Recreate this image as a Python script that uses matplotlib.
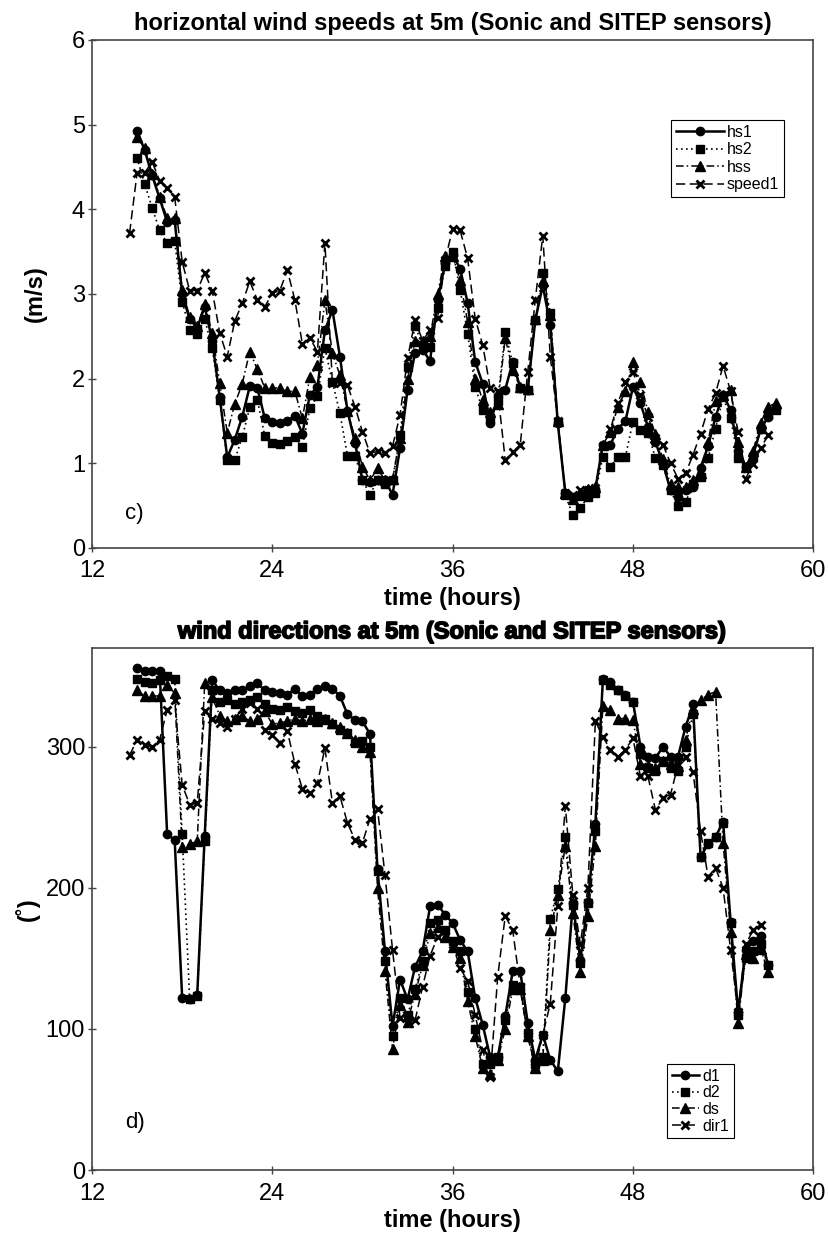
import matplotlib
matplotlib.use("Agg")
import matplotlib.pyplot as plt
import matplotlib.patheffects as pe
import numpy as np

plt.rcParams["font.family"] = ["Liberation Sans", "DejaVu Sans"]

# sampling: every half hour
STEP = 0.5

# top panel: horizontal wind speeds (m/s), hs series start at 15.0 h, speed1 at 14.5 h
hs_start = 15.0
speed1_start = 14.5
hs1 = [4.93, 4.70, 4.40, 4.13, 3.85, 3.87, 3.00, 2.70, 2.60, 2.85,
       2.45, 1.78, 1.07, 1.28, 1.55, 1.91, 1.89, 1.53, 1.49, 1.48,
       1.50, 1.56, 1.35, 1.81, 1.90, 2.57, 2.81, 2.26, 1.62, 1.24,
       0.80, 0.78, 0.80, 0.80, 0.63, 1.18, 1.87, 2.30, 2.34, 2.21,
       2.93, 3.36, 3.46, 3.30, 2.89, 2.20, 1.94, 1.47, 1.79, 1.87,
       2.20, 1.89, 1.87, 2.69, 3.10, 2.63, 1.47, 0.65, 0.60, 0.62,
       0.68, 0.70, 1.22, 1.22, 1.41, 1.50, 1.90, 1.71, 1.43, 1.25,
       1.00, 0.68, 0.60, 0.68, 0.72, 0.95, 1.20, 1.55, 1.81, 1.63,
       1.15, 0.96, 1.10, 1.40, 1.55, 1.65]
hs2 = [4.61, 4.30, 4.02, 3.75, 3.60, 3.62, 2.91, 2.58, 2.53, 2.70,
       2.36, 1.75, 1.04, 1.04, 1.31, 1.66, 1.75, 1.32, 1.24, 1.23,
       1.26, 1.31, 1.19, 1.65, 1.79, 2.36, 1.96, 1.59, 1.09, 1.09,
       0.80, 0.63, 0.80, 0.76, 0.80, 1.33, 2.14, 2.62, 2.40, 2.37,
       2.83, 3.33, 3.50, 3.05, 2.53, 1.90, 1.63, 1.53, 1.73, 2.55,
       2.18, 1.89, 1.87, 2.69, 3.25, 2.77, 1.49, 0.62, 0.39, 0.47,
       0.60, 0.65, 1.08, 0.96, 1.08, 1.08, 1.49, 1.39, 1.36, 1.06,
       0.98, 0.68, 0.49, 0.54, 0.76, 0.84, 1.06, 1.41, 1.78, 1.53,
       1.06, 0.96, 1.08, 1.41, 1.57, 1.63]
hss = [4.85, 4.72, 4.42, 4.15, 3.90, 3.90, 3.05, 2.73, 2.62, 2.88,
       2.54, 1.95, 1.36, 1.70, 1.94, 2.32, 2.11, 1.89, 1.89, 1.89,
       1.85, 1.85, 1.53, 2.02, 2.16, 2.93, 2.30, 2.04, 1.62, 1.30,
       0.96, 0.80, 0.94, 0.80, 0.82, 1.30, 2.00, 2.45, 2.45, 2.50,
       3.00, 3.45, 3.45, 3.16, 2.67, 2.00, 1.75, 1.60, 1.70, 2.48,
       2.10, 1.90, 1.88, 2.70, 3.15, 2.75, 1.50, 0.65, 0.58, 0.62,
       0.70, 0.72, 1.22, 1.37, 1.67, 1.85, 2.20, 1.96, 1.61, 1.34,
       1.05, 0.75, 0.72, 0.72, 0.80, 0.88, 1.25, 1.73, 1.81, 1.87,
       1.25, 0.96, 1.15, 1.48, 1.67, 1.71]
speed1 = [3.72, 4.43, 4.43, 4.56, 4.34, 4.25, 4.15, 3.38, 3.04, 3.04,
          3.25, 3.04, 2.54, 2.26, 2.68, 2.89, 3.15, 2.93, 2.85, 3.01,
          3.04, 3.28, 2.93, 2.41, 2.48, 2.32, 3.60, 1.95, 1.95, 1.92,
          1.67, 1.37, 1.12, 1.14, 1.12, 1.20, 1.57, 2.24, 2.69, 2.45,
          2.57, 2.72, 3.40, 3.77, 3.75, 3.42, 2.71, 2.40, 1.89, 1.85,
          1.04, 1.13, 1.22, 2.08, 2.93, 3.69, 2.26, 1.50, 0.65, 0.62,
          0.68, 0.68, 0.71, 1.20, 1.40, 1.71, 1.96, 2.08, 1.81, 1.55,
          1.30, 1.22, 1.00, 0.82, 0.88, 1.10, 1.35, 1.64, 1.83, 2.15,
          1.85, 1.37, 0.82, 0.99, 1.18, 1.33]

# bottom panel: wind directions (deg), d series start at 15.0 h, dir1 at 14.5 h
d_start = 15.0
dir1_start = 14.5
d1 = [356, 354, 354, 354, 238, 234, 122, 121, 124, 237,
      347, 340, 338, 340, 340, 343, 345, 340, 339, 338,
      337, 341, 336, 337, 341, 343, 341, 336, 323, 319,
      318, 309, 213, 155, 102, 135, 121, 144, 155, 187,
      188, 181, 175, 163, 155, 122, 103, 80, 80, 109,
      141, 141, 104, 78, 96, 78, 70, 122, 189, 149,
      190, 245, 348, 346, 340, 337, 332, 300, 293, 292,
      300, 293, 293, 314, 330, 222, 231, 236, 247, 176,
      112, 156, 162, 166, 145]
d2 = [348, 346, 345, 347, 350, 348, 238, 121, 123, 233,
      340, 332, 333, 330, 332, 333, 335, 330, 327, 326,
      328, 325, 324, 326, 322, 320, 316, 312, 310, 303,
      304, 300, 212, 148, 95, 122, 110, 128, 148, 175,
      177, 170, 162, 155, 126, 100, 75, 75, 80, 106,
      131, 130, 97, 75, 80, 178, 199, 236, 188, 147,
      189, 240, 347, 344, 340, 336, 332, 295, 285, 283,
      290, 285, 283, 300, 323, 222, 232, 236, 246, 175,
      110, 150, 155, 160, 145]
ds = [340, 336, 336, 336, 344, 338, 229, 231, 233, 345,
      335, 322, 318, 320, 322, 318, 320, 325, 316, 317,
      318, 320, 318, 320, 318, 320, 317, 314, 310, 305,
      300, 296, 200, 141, 86, 117, 105, 125, 145, 168,
      172, 165, 158, 150, 120, 95, 72, 68, 78, 100,
      128, 128, 95, 72, 78, 170, 195, 230, 182, 140,
      180, 230, 329, 326, 320, 320, 319, 288, 287, 285,
      290, 288, 286, 305, 327, 333, 337, 339, 232, 169,
      104, 153, 150, 157, 140]
dir1 = [294, 305, 301, 300, 305, 326, 333, 273, 259, 260,
        325, 320, 317, 314, 320, 327, 331, 327, 312, 308,
        303, 311, 288, 270, 267, 274, 299, 260, 265, 246,
        234, 232, 249, 256, 209, 156, 108, 104, 106, 130,
        152, 165, 170, 160, 143, 134, 110, 85, 66, 137,
        180, 170, 130, 95, 73, 96, 118, 187, 258, 195,
        160, 200, 318, 307, 298, 293, 298, 306, 279, 279,
        255, 264, 266, 287, 293, 282, 240, 208, 214, 200,
        156, 112, 160, 170, 174]

x_ticks = [12, 24, 36, 48, 60]


def times(start, values):
    return start + STEP * np.arange(len(values))


# line styles for the four sensors (solid/circle, dotted/square, dash-dot/triangle, dash/x)
STYLES = [
    dict(linestyle="-", linewidth=1.8, marker="o", markersize=6),
    dict(linestyle=(0, (1, 2)), linewidth=1.2, marker="s", markersize=6),
    dict(linestyle=(0, (5, 2, 1, 2)), linewidth=1.1, marker="^", markersize=6.5),
    dict(linestyle=(0, (6, 3)), linewidth=1.1, marker="x", markersize=6, markeredgewidth=2),
]


def style_axis(axis):
    for spine in axis.spines.values():
        spine.set_color("#444444")
        spine.set_linewidth(1.2)
    axis.tick_params(direction="inout", length=6, width=1, color="#444444",
                     labelsize=17, pad=2, top=False, right=False)
    axis.tick_params(axis="x", pad=6)  # keeps "12" clear of the "0" on the y axis
    axis.set_xlim(12, 60)
    axis.set_xticks(x_ticks)
    axis.set_xlabel("time (hours)", fontsize=17, fontweight="bold", labelpad=3)


fig = plt.figure(figsize=(8.29, 12.38), dpi=100)
ax1 = fig.add_axes([0.111, 0.5574, 0.870, 0.4103])
ax2 = fig.add_axes([0.111, 0.0549, 0.870, 0.4217])

# top panel
top_series = [(hs_start, hs1, "hs1"), (hs_start, hs2, "hs2"),
              (hs_start, hss, "hss"), (speed1_start, speed1, "speed1")]
for (start, vals, name), st in zip(top_series, STYLES):
    ax1.plot(times(start, vals), vals, color="black", label=name, **st)
ax1.set_ylim(0, 6)
ax1.set_yticks(range(0, 7))
style_axis(ax1)
ax1.set_ylabel("(m/s)", fontsize=17, fontweight="bold", labelpad=18)
ax1.set_title("horizontal wind speeds at 5m (Sonic and SITEP sensors)",
              fontsize=17, fontweight="bold", pad=7)
ax1.text(14.2, 0.41, "c)", fontsize=16, va="center")
leg1 = ax1.legend(loc="upper left", bbox_to_anchor=(0.803, 0.842), fontsize=11.5,
                  handlelength=3.0, handletextpad=0.2, labelspacing=0.15,
                  borderpad=0.3, borderaxespad=0, fancybox=False, framealpha=1)
leg1.get_frame().set_edgecolor("black")
leg1.get_frame().set_linewidth(0.8)

# bottom panel
bottom_series = [(d_start, d1, "d1"), (d_start, d2, "d2"),
                 (d_start, ds, "ds"), (dir1_start, dir1, "dir1")]
for (start, vals, name), st in zip(bottom_series, STYLES):
    ax2.plot(times(start, vals), vals, color="black", label=name, **st)
ax2.set_ylim(0, 370)
ax2.set_yticks([0, 100, 200, 300])
style_axis(ax2)
ax2.set_ylabel("(\u02da)", fontsize=17, fontweight="bold", labelpad=4)
ttl = ax2.set_title("wind directions at 5m (Sonic and SITEP sensors)",
                    fontsize=17, fontweight="bold", pad=7)
ttl.set_path_effects([pe.withStroke(linewidth=1.2, foreground="black")])
ax2.text(14.2, 34, "d)", fontsize=16, va="center")
leg2 = ax2.legend(loc="upper left", bbox_to_anchor=(0.797, 0.203), fontsize=11.5,
                  handlelength=1.7, handletextpad=0.2, labelspacing=0.1,
                  borderpad=0.3, borderaxespad=0, fancybox=False, framealpha=1)
leg2.get_frame().set_edgecolor("black")
leg2.get_frame().set_linewidth(0.8)

fig.savefig("out.png", dpi=100)
